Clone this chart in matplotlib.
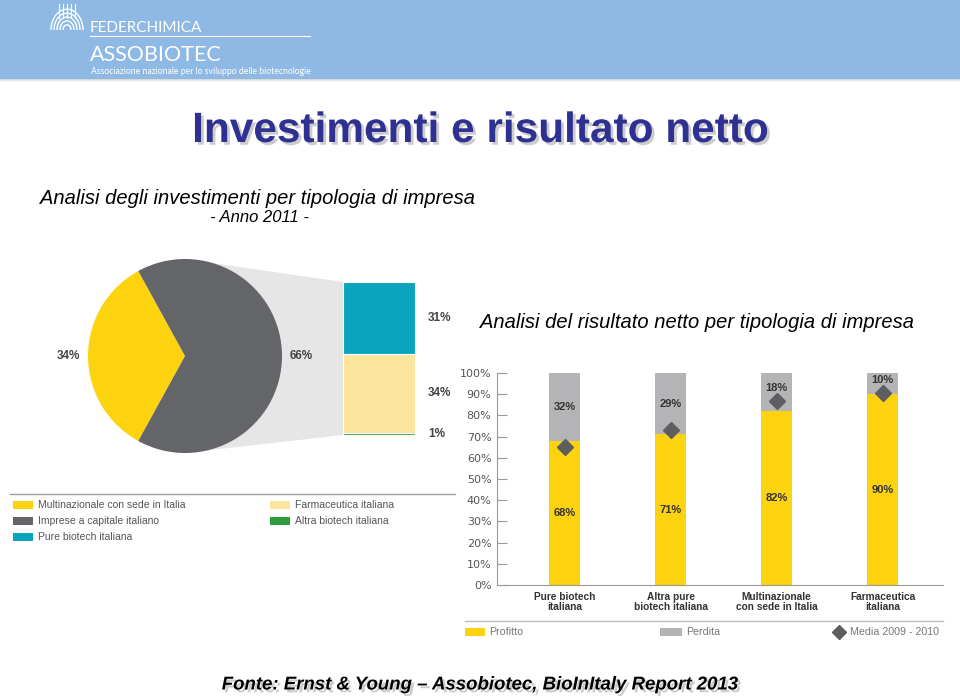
import numpy as np
import matplotlib.pyplot as plt
from matplotlib.patches import Polygon, Rectangle, Arc
import matplotlib.patheffects as pe

W, H = 960, 699

# ---- data ----
pie_labels = ['Multinazionale con sede in Italia', 'Imprese a capitale italiano']
pie_values = [34, 66]
split_labels = ['Altra biotech italiana', 'Farmaceutica italiana', 'Pure biotech italiana']
split_values = [1, 34, 31]

categories = ['Pure biotech\nitaliana', 'Altra pure\nbiotech italiana',
              'Multinazionale\ncon sede in Italia', 'Farmaceutica\nitaliana']
profitto = [68, 71, 82, 90]
perdita = [32, 29, 18, 10]
media = [65, 73, 87, 90.5]
yticks = [0, 10, 20, 30, 40, 50, 60, 70, 80, 90, 100]

YEL = '#FDD20F'
GRY = '#646569'
TEAL = '#0BA4BF'
LYEL = '#FCE59C'
GRN = '#2E9B3E'
LOSS = '#B4B4B6'
DIA = '#5E5E60'

fig = plt.figure(figsize=(W / 100, H / 100), dpi=100)


def box(x0, y0, x1, y1):
    return fig.add_axes([x0 / W, 1 - y1 / H, (x1 - x0) / W, (y1 - y0) / H])


bg = fig.add_axes([0, 0, 1, 1])
bg.set_xlim(0, W)
bg.set_ylim(H, 0)
bg.axis('off')

# header band
for i, a in enumerate([0.25, 0.15, 0.08, 0.04]):
    bg.add_patch(Rectangle((0, 78 + i), W, 1, color='black', alpha=a, lw=0))
bg.add_patch(Rectangle((0, 0), W, 79, color='#8EB9E4', lw=0))
for w in [8, 14, 20, 26, 32]:
    bg.add_patch(Arc((67, 30), w, w * 1.3, theta1=180, theta2=360, color='white', lw=1))
for xx in [59, 63, 67, 71, 75]:
    bg.plot([xx, xx], [4, 18], color='white', lw=0.8)
bg.text(90, 32, 'FEDERCHIMICA', color='white', fontsize=11, family='Lato')
bg.plot([90, 310], [36, 36], color='white', lw=0.8)
bg.text(90, 61, 'ASSOBIOTEC', color='white', fontsize=15.5, family='Lato')
bg.text(91, 74, 'Associazione nazionale per lo sviluppo delle biotecnologie',
        color='white', fontsize=6.2, family='Lato')

# titles
shadow = [pe.withSimplePatchShadow(offset=(2, -2), shadow_rgbFace='#AAAAAA', alpha=0.6)]
bg.text(481, 131, 'Investimenti e risultato netto', ha='center', va='center',
        fontsize=30.5, weight='bold', color='#2E3192', family='Liberation Sans',
        path_effects=shadow)
bg.text(40, 198, 'Analisi degli investimenti per tipologia di impresa', va='center',
        fontsize=14.5, style='italic', family='Liberation Sans', color='black')
bg.text(259, 218, '- Anno 2011 -', ha='center', va='center',
        fontsize=12, style='italic', family='Liberation Sans', color='black')
bg.text(480, 322, 'Analisi del risultato netto per tipologia di impresa', va='center',
        fontsize=14.5, style='italic', family='Liberation Sans', color='black')
bg.text(480, 685, 'Fonte: Ernst & Young \u2013 Assobiotec, BioInItaly Report 2013',
        ha='center', va='center', fontsize=13.4, weight='bold', style='italic',
        family='Liberation Sans', path_effects=shadow)

# connector behind the pie
bg.add_patch(Polygon([(185, 259), (343, 282), (343, 435), (185, 453)],
                     closed=True, color='#E6E6E6', lw=0))

# pie
pax = box(88, 259, 282, 453)
pax.pie(pie_values, colors=[YEL, GRY], startangle=180 - pie_values[0] * 1.8,
        autopct='%d%%', pctdistance=1.2,
        textprops=dict(fontsize=8.5, weight='bold', color='#444444', family='Liberation Sans'))
pax.set_xlim(-1, 1)
pax.set_ylim(-1, 1)

# split of the 66%
bx = box(343, 282, 415, 435)
bottom = 0
for v, c in zip(split_values, [GRN, LYEL, TEAL]):
    bx.bar(0, v, bottom=bottom, width=1, color=c, edgecolor='white', linewidth=0.8)
    bx.annotate(f'{v}%', xy=(1, bottom + v / 2), xycoords=('axes fraction', 'data'),
                xytext=(13, 0), textcoords='offset pixels', va='center',
                fontsize=8.5, weight='bold', color='#444444', family='Liberation Sans')
    bottom += v
bx.set_xlim(-0.5, 0.5)
bx.set_ylim(0, bottom)
bx.axis('off')

# left legend
bg.plot([10, 455], [494, 494], color='#A0A0A0', lw=1)
leg1 = [(13, 505, YEL, pie_labels[0]), (13, 521, GRY, pie_labels[1]),
        (13, 537, TEAL, split_labels[2]), (270, 505, LYEL, split_labels[1]),
        (270, 521, GRN, split_labels[0])]
for x, y, c, t in leg1:
    bg.add_patch(Rectangle((x, y - 4), 20, 8, color=c, lw=0))
    bg.text(x + 25, y, t, va='center', fontsize=7.5, color='#555555', family='Liberation Sans')

# stacked bars
ax = box(497, 373, 943, 585)
x = np.arange(len(categories))
ax.bar(x, profitto, width=0.29, color=YEL)
ax.bar(x, perdita, bottom=profitto, width=0.29, color=LOSS)
ax.plot(x, media, 'D', color=DIA, markersize=8, zorder=3)
for i in range(len(x)):
    ax.text(x[i], profitto[i] / 2, f'{profitto[i]}%', ha='center', va='center',
            fontsize=8, weight='bold', color='#333333', family='Liberation Sans')
    ly = max(profitto[i] + perdita[i] / 2, media[i] + 6)
    ax.text(x[i], ly, f'{perdita[i]}%', ha='center', va='center',
            fontsize=8, weight='bold', color='#333333', family='Liberation Sans')
ax.set_xlim(-0.64, 3.57)
ax.set_ylim(0, 100)
ax.set_yticks(yticks)
ax.set_yticklabels([f'{t}%' for t in yticks])
ax.set_xticks(x)
ax.set_xticklabels(categories, fontsize=7.3, weight='bold', color='#333333',
                   family='Liberation Sans', linespacing=1.0)
ax.tick_params(axis='x', length=0, pad=5)
ax.tick_params(axis='y', direction='in', length=7, color='#999999', labelsize=8,
               labelcolor='#555555', pad=4)
for s in ['top', 'right']:
    ax.spines[s].set_visible(False)
for s in ['left', 'bottom']:
    ax.spines[s].set_color('#999999')
ax.patch.set_alpha(0)

# bottom legend
bg.plot([465, 943], [621, 621], color='#BBBBBB', lw=1)
bg.add_patch(Rectangle((465, 628), 20, 8, color=YEL, lw=0))
bg.text(489, 632, 'Profitto', va='center', fontsize=7.7, color='#777777', family='Liberation Sans')
bg.add_patch(Rectangle((660, 628), 22, 8, color=LOSS, lw=0))
bg.text(686, 632, 'Perdita', va='center', fontsize=7.7, color='#777777', family='Liberation Sans')
bg.plot([839], [632], 'D', color=DIA, markersize=7)
bg.text(850, 632, 'Media 2009 - 2010', va='center', fontsize=7.7, color='#777777',
        family='Liberation Sans')

fig.savefig('out.png', dpi=100)
